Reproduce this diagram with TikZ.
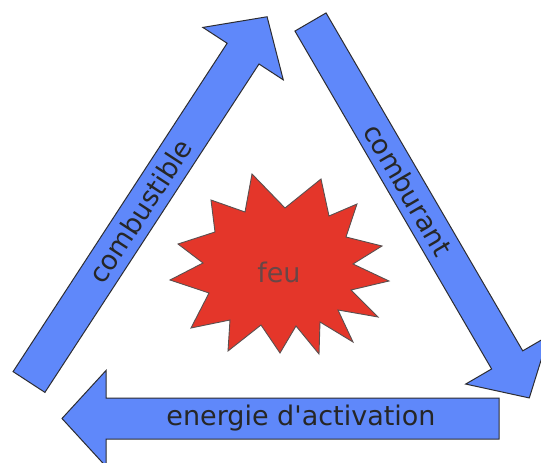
\documentclass[tikz,border=0pt]{standalone}
\usepackage{fontspec}
% plain family: keeps the straight apostrophe
\newfontfamily\labelfont{DejaVu Sans}
\definecolor{arrowblue}{RGB}{95,136,250}
\definecolor{arrowline}{RGB}{45,45,50}
\definecolor{firered}{RGB}{228,54,42}
\definecolor{fireline}{RGB}{90,80,80}
\definecolor{firetext}{RGB}{105,70,70}
\tikzset{
  fatarrow/.style={fill=arrowblue, draw=arrowline, line width=1pt, line join=miter},
  arrowlabel/.style={font=\labelfont\fontsize{27}{32}\selectfont, text=black!85, inner sep=0pt, transform shape},
  firestar/.style={fill=firered, draw=fireline, line width=0.9pt, line join=miter},
}
% block arrow along the local x axis: length #1, shaft half width #2
\newcommand{\blockarrow}[2]{%
  \draw[fatarrow] (0,-#2) -- ({#1-44},-#2) -- ({#1-44},-48) -- (#1,0)
    -- ({#1-44},48) -- ({#1-44},#2) -- (0,#2) -- cycle;}
\begin{document}
\begin{tikzpicture}[x=1pt,y=-1pt]
\clip (0,0) rectangle (541,463);
\fill[white] (0,0) rectangle (541,463);

% combustible: rising from bottom left
\begin{scope}[shift={(29,382)}, rotate=56.9]
  \blockarrow{436}{19}
  \node[arrowlabel] (combustible) at (204,0) {combustible};
\end{scope}

% comburant: falling to bottom right
\begin{scope}[shift={(310.5,22)}, rotate=-59.8]
  \blockarrow{435}{18}
  \node[arrowlabel] (comburant) at (194,0) {comburant};
\end{scope}

% energie d'activation: pointing left
\begin{scope}[shift={(499,418.5)}, rotate=180]
  \blockarrow{437}{20.5}
\end{scope}
\node[arrowlabel] (energie) at (301,418) {energie d'activation};

% the fire
\draw[firestar] (252,174) -- (285,208) -- (321,179) -- (329,216) -- (357,204)
  -- (346,237) -- (382,246) -- (353,264) -- (389,281) -- (351,290)
  -- (378,317) -- (338,310) -- (353,342) -- (320,322) -- (319,354)
  -- (296,326) -- (280,353) -- (261,325) -- (228,351) -- (230,320)
  -- (191,328) -- (209,293) -- (170,280) -- (203,263) -- (178,244)
  -- (215,232) -- (211,200) -- (245,212) -- cycle;
\node[font=\labelfont\fontsize{27}{32}\selectfont, text=firetext, inner sep=0pt] (feu) at (279,272) {feu};
\end{tikzpicture}
\end{document}
